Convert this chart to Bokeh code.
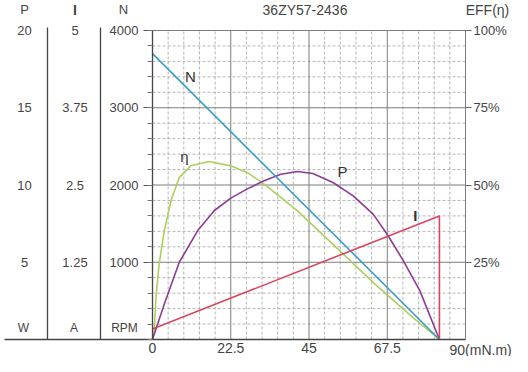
from bokeh.plotting import figure
from bokeh.models import Range1d, LinearAxis, FixedTicker, PrintfTickFormatter
from bokeh.core.properties import value
from bokeh.embed import file_html
from bokeh.resources import INLINE

# ---------------- data ----------------
title_text = "36ZY57-2436"

torque_N = [0, 82.5]
speed_N = [3700, 0]

torque_I = [0, 82.5, 82.5]
current_I = [0.17, 2.0, 0]

torque_P = [0, 3.4, 7.7, 13.0, 17.8, 22.5, 27.3, 32.1, 36.9, 41.7, 46.1, 51.9,
            57.7, 63.5, 67.8, 72.1, 76.9, 82.5]
power_P = [0, 2.3, 5.0, 7.05, 8.35, 9.15, 9.75, 10.27, 10.7, 10.87, 10.74, 10.16,
           9.3, 8.1, 6.7, 5.1, 3.15, 0]

torque_E = [0, 0.5, 1.0, 1.9, 3.4, 5.3, 7.7, 11.0, 16.3, 22.5, 27.3, 32.1, 36.9,
            41.7, 51.9, 63.5, 74.9, 82.5]
eff_E = [0, 3, 13.6, 24.4, 35.2, 44.9, 52.4, 56.2, 57.6, 56.2, 54, 50.3, 46,
         41.6, 30.8, 18.4, 7.1, 0]

x_ticks = [0, 22.5, 45, 67.5]
x_last_label = "90(mN.m)"
x_grid_major = [0, 22.5, 45, 67.5, 90]
x_grid_minor = [4.5, 9, 13.5, 18, 27, 31.5, 36, 40.5, 49.5, 54,
                58.5, 63, 72, 76.5, 81, 85.5]
n_ticks = [1000, 2000, 3000, 4000]
n_grid_major = [1000, 2000, 3000, 4000]
n_minor = [200, 400, 600, 800, 1200, 1400, 1600, 1800, 2200, 2400,
           2600, 2800, 3200, 3400, 3600, 3800]
n_minor_ticks = [0, 200, 400, 600, 800, 1000, 1200, 1400, 1600, 1800, 2000, 2200,
                 2400, 2600, 2800, 3000, 3200, 3400, 3600, 3800, 4000]
p_ticks = [5, 10, 15, 20]
p_labels = ["5", "10", "15", "20"]
i_ticks = [1.25, 2.5, 3.75, 5]
i_labels = ["1.25", "2.5", "3.75", "5"]
eff_ticks = [25, 50, 75, 100]
curve_names = ["N", "η", "P"]
curve_name_x = [10.9, 9.2, 54.6]
curve_name_y = [3400, 2370, 2175]
current_name_x = [75.6]
current_name_y = [1605]

# ---------------- layout (figure pixels) ----------------
W, H = 512, 356
FL, FR, FT, FB = 152, 465, 30, 339     # chart area edges
X_MAX, N_MAX, P_MAX, I_MAX, E_MAX = 90, 4000, 20, 5, 100
FONT = "Liberation Sans"
TXT = "#444444"
AX = "#444444"

C_N = "#3d9cc6"
C_E = "#abd05e"
C_P = "#8d3b95"
C_I = "#d9455e"


def X(px):
    return (px - FL) / (FR - FL) * X_MAX


def Y(py):
    return (FB - py) / (FB - FT) * N_MAX


def yrange(top):
    return Range1d(Y(H) * top / N_MAX, Y(0) * top / N_MAX)


p = figure(width=W, height=H, output_backend="svg", toolbar_location=None,
           title=None, x_range=Range1d(X(0), X(W)), y_range=yrange(N_MAX),
           x_axis_location=None, y_axis_location=None, min_border=0,
           background_fill_color="white", border_fill_color="white")
p.outline_line_color = None
p.grid.visible = False
p.extra_y_ranges = {"P": yrange(P_MAX), "I": yrange(I_MAX), "EFF": yrange(E_MAX)}

# ---- grid ----
p.segment(x0=x_grid_minor, y0=0, x1=x_grid_minor, y1=N_MAX,
          line_color="#b4b4b4", line_width=1, line_dash="3 2")
p.segment(x0=0, y0=n_minor, x1=X_MAX, y1=n_minor,
          line_color="#b4b4b4", line_width=1, line_dash="3 2")
p.segment(x0=x_grid_major, y0=0, x1=x_grid_major, y1=N_MAX,
          line_color="#7d7d7d", line_width=1)
p.segment(x0=0, y0=n_grid_major, x1=X_MAX, y1=n_grid_major,
          line_color="#7d7d7d", line_width=1)

# ---- axes ----
xa = LinearAxis(fixed_location=0, bounds=(0, X_MAX), ticker=FixedTicker(ticks=x_ticks))
xa.major_tick_out = 0
xa.major_tick_in = 0
xa.minor_tick_out = 0
xa.minor_tick_in = 0
xa.axis_line_color = AX
xa.axis_line_width = 1.3
xa.major_label_standoff = 3
xa.major_label_text_font = FONT
xa.major_label_text_font_size = "14px"
xa.major_label_text_color = TXT
p.add_layout(xa, "below")

ya = LinearAxis(fixed_location=0, bounds=(0, N_MAX),
                ticker=FixedTicker(ticks=n_ticks, minor_ticks=n_minor_ticks))
ya.major_tick_out = 9
ya.major_tick_in = 0
ya.minor_tick_out = 5
ya.minor_tick_in = 0
ya.axis_line_color = AX
ya.axis_line_width = 1.3
ya.major_tick_line_color = "#555555"
ya.minor_tick_line_color = "#777777"
ya.major_label_standoff = 5
ya.major_label_text_font = FONT
ya.major_label_text_font_size = "13px"
ya.major_label_text_color = TXT
p.add_layout(ya, "left")

ra = LinearAxis(y_range_name="EFF", fixed_location=X_MAX, bounds=(0, E_MAX),
                ticker=FixedTicker(ticks=eff_ticks),
                formatter=PrintfTickFormatter(format="%d%%"))
ra.major_tick_out = 6
ra.major_tick_in = 0
ra.minor_tick_out = 0
ra.minor_tick_in = 0
ra.axis_line_color = "#7d7d7d"
ra.major_tick_line_color = "#666666"
ra.major_label_standoff = 2
ra.major_label_text_font = FONT
ra.major_label_text_font_size = "13px"
ra.major_label_text_color = TXT
p.add_layout(ra, "right")

# ---- curves ----
p.line(torque_E, eff_E, y_range_name="EFF", color=C_E, line_width=1.6)
p.line(torque_P, power_P, y_range_name="P", color=C_P, line_width=1.6)
p.line(torque_N, speed_N, color=C_N, line_width=1.6)
p.line(torque_I, current_I, y_range_name="I", color=C_I, line_width=1.6)

# ---- curve names ----
p.text(x=curve_name_x, y=curve_name_y, text=curve_names,
       text_font=value(FONT), text_font_size="15px", text_color="#333333",
       text_align="center", text_baseline="middle")
p.text(x=current_name_x, y=current_name_y, text=["I"], text_font=value(FONT),
       text_font_size="15px", text_font_style="bold", text_color="#333333",
       text_align="center", text_baseline="middle")

# ---- left scale columns (P in W, I in A) ----
p.text(x=X(24), y=p_ticks, text=p_labels, y_range_name="P",
       text_font=value(FONT), text_font_size="13px", text_color=TXT,
       text_align="center", text_baseline="middle")
p.text(x=X(74.5), y=i_ticks, text=i_labels, y_range_name="I",
       text_font=value(FONT), text_font_size="13px", text_color=TXT,
       text_align="center", text_baseline="middle")


def txt(px, py, s, size="13px", style="normal", align="center"):
    p.text(x=[X(px)], y=[Y(py)], text=[s], text_font=value(FONT),
           text_font_size=size, text_font_style=style, text_color=TXT,
           text_align=align, text_baseline="middle")


txt(24, 9, "P", "13px")
txt(74.5, 9, "I", "14px", "bold")
txt(123, 9, "N", "13px")
txt(23, 327, "W", "12px")
txt(73.5, 327, "A", "12px")
txt(124, 327, "RPM", "12px")
txt(304.5, 9, title_text, "14px")
txt(487, 9, "EFF(η)", "14px")
txt(449, 349, x_last_label, "14px", align="left")

# ---- column separators and base rule ----
p.segment(x0=[X(47), X(100)], y0=Y(27), x1=[X(47), X(100)], y1=0,
          line_color=AX, line_width=1.3)
p.segment(x0=X(4), y0=0, x1=0, y1=0, line_color=AX, line_width=1.3)

open("out.html", "w").write(file_html(p, INLINE))
